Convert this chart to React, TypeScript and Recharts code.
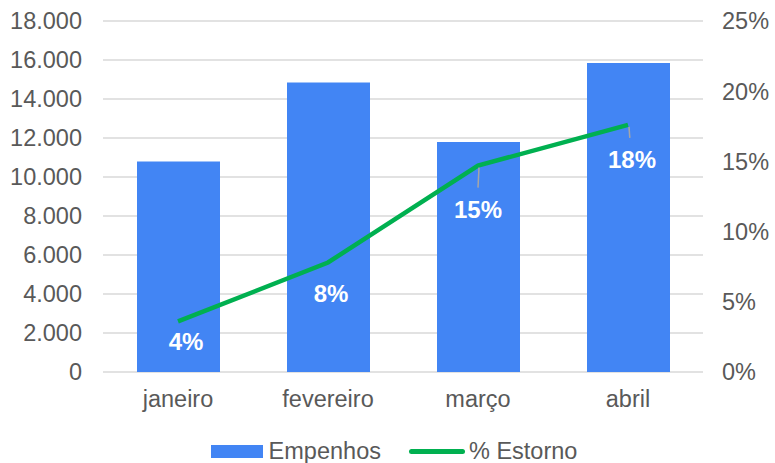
import { ComposedChart, Bar, Line, XAxis, YAxis, CartesianGrid, Legend, LabelList } from 'recharts';

const months = ['janeiro', 'fevereiro', 'março', 'abril'];
const empenhos = [10800, 14850, 11800, 15850];
const estorno = [3.6, 7.8, 14.7, 17.6];
const leftTicks = [0, 2000, 4000, 6000, 8000, 10000, 12000, 14000, 16000, 18000];
const rightTicks = [0, 5, 10, 15, 20, 25];

const data = months.map((m, i) => ({ name: m, empenhos: empenhos[i], estorno: estorno[i] }));

const FONT = '"Liberation Sans", Arial, sans-serif';
const GREY = '#595959';
const TICK_SIZE = 23.5;

const fmtThousands = (v: number) => String(v).replace(/\B(?=(\d{3})+(?!\d))/g, '.');

// label placement relative to the line point (dx, dy of text centre)
const labelOffsets = [
  [8, 20],
  [3, 31],
  [0, 44],
  [4, 35],
];

const PctLabel = (props: any) => {
  const { x, y, value, index } = props;
  const [dx, dy] = labelOffsets[index] || [0, 30];
  const cx = x + dx;
  const cy = y + dy;
  const leader = dy > 33;
  return (
    <g>
      {leader && (
        <line
          x1={x + 1}
          y1={y + 2}
          x2={x + dx * 0.45}
          y2={y + dy - 22}
          stroke="#a6a6a6"
          strokeWidth={1.5}
        />
      )}
      <text
        x={cx}
        y={cy}
        textAnchor="middle"
        dominantBaseline="central"
        fill="#ffffff"
        fontWeight="bold"
        fontSize={24}
        fontFamily={FONT}
      >
        {Math.round(value)}%
      </text>
    </g>
  );
};

const CustomLegend = () => (
  <div
    style={{
      display: 'flex',
      justifyContent: 'center',
      alignItems: 'center',
      height: 24,
      paddingLeft: 13,
      fontFamily: FONT,
      fontSize: TICK_SIZE,
      color: GREY,
    }}
  >
    <span style={{ display: 'inline-block', width: 52, height: 13, background: '#4285f4', marginRight: 6 }} />
    <span>Empenhos</span>
    <span
      style={{
        display: 'inline-block',
        width: 56,
        height: 5,
        borderRadius: 3,
        background: '#00b050',
        marginLeft: 28,
        marginRight: 4,
      }}
    />
    <span>% Estorno</span>
  </div>
);

export default function App() {
  return (
    <div style={{ position: 'absolute', left: 0, top: 0, background: '#fff' }}>
      <ComposedChart
        width={775}
        height={463}
        data={data}
        margin={{ top: 21, right: 0, bottom: 0, left: 0 }}
      >
        <CartesianGrid vertical={false} stroke="#d9d9d9" strokeWidth={1.5} yAxisId="left" />
        <XAxis
          dataKey="name"
          axisLine={false}
          tickLine={false}
          height={67}
          tickMargin={12}
          tick={{ fill: GREY, fontSize: TICK_SIZE, fontFamily: FONT }}
        />
        <YAxis
          yAxisId="left"
          orientation="left"
          width={103}
          domain={[0, 18000]}
          ticks={leftTicks}
          axisLine={false}
          tickLine={false}
          tickMargin={15}
          tickFormatter={fmtThousands}
          tick={{ fill: GREY, fontSize: TICK_SIZE, fontFamily: FONT }}
        />
        <YAxis
          yAxisId="right"
          orientation="right"
          width={72}
          domain={[0, 25]}
          ticks={rightTicks}
          axisLine={false}
          tickLine={false}
          tickMargin={13}
          tickFormatter={(v: number) => `${v}%`}
          tick={{ fill: GREY, fontSize: TICK_SIZE, fontFamily: FONT, textAnchor: 'start' }}
        />
        <Legend verticalAlign="bottom" height={24} content={<CustomLegend />} />
        <Bar
          yAxisId="left"
          dataKey="empenhos"
          name="Empenhos"
          fill="#4285f4"
          barSize={83}
          isAnimationActive={false}
        />
        <Line
          yAxisId="right"
          type="linear"
          dataKey="estorno"
          name="% Estorno"
          stroke="#00b050"
          strokeWidth={4.5}
          dot={false}
          activeDot={false}
          isAnimationActive={false}
        >
          <LabelList dataKey="estorno" content={<PctLabel />} />
        </Line>
      </ComposedChart>
    </div>
  );
}
